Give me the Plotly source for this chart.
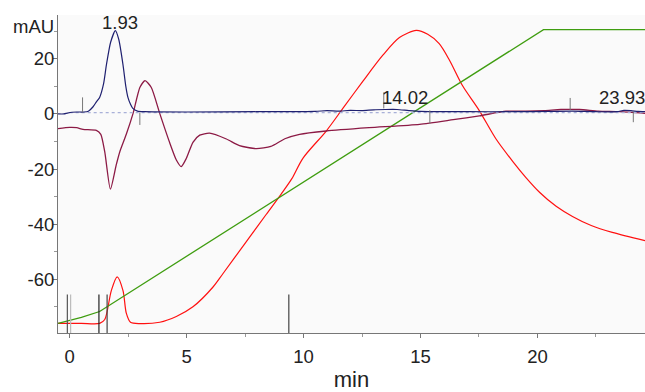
import plotly.graph_objects as go

# ---- data ----
uv_t = [-0.5, -0.25, -0.1, 0.1, 0.3, 0.6, 0.8, 1.0, 1.15, 1.28, 1.45, 1.57, 1.75, 1.95, 2.1, 2.28,
        2.4, 2.49, 2.6, 2.7, 2.9, 3.2, 5.0, 8.0, 10.5, 11.0, 11.5, 12.0, 12.5, 13.0, 13.5, 14.0,
        14.5, 15.0, 17.0, 19.0, 20.5, 21.5, 22.5, 23.4, 23.7, 24.0, 24.3, 24.6]
uv_v = [0.0, 0.0, 0.3, 0.6, 0.7, 0.7, 1.0, 2.6, 4.5, 6.0, 11.0, 17.8, 26.0, 30.2, 27.0, 17.8,
        10.0, 6.0, 3.5, 2.0, 1.0, 0.8, 0.7, 0.8, 0.9, 1.2, 1.0, 1.3, 1.2, 1.5, 1.6, 1.6,
        1.2, 0.9, 0.8, 0.8, 0.9, 1.0, 0.8, 0.8, 1.3, 1.2, 0.9, 0.8]

base_t = [0.0, 24.6]
base_v = [0.5, 0.5]

uv2_t = [-0.5, 0.0, 0.3, 0.57, 1.14, 1.33, 1.5, 1.74, 1.99, 2.14, 2.42, 2.71, 3.0, 3.22, 3.49,
         3.85, 4.27, 4.56, 4.77, 4.99, 5.27, 5.56, 5.98, 6.7, 7.26, 7.98, 8.6, 9.2, 9.83, 10.97,
         12.8, 14.96, 16.4, 17.52, 18.66, 19.5, 20.3, 21.0, 21.8, 22.6, 23.5, 24.6]
uv2_v = [-5.3, -4.9, -5.0, -5.6, -6.0, -7.4, -13.8, -27.3, -18.5, -13.8, -7.4, 0.2, 9.6, 12.1, 9.6,
         0.2, -10.3, -16.7, -19.1, -16.1, -10.3, -7.7, -7.0, -9.1, -11.5, -12.6, -11.8, -9.0, -7.4, -6.2,
         -5.0, -3.8, -2.1, -0.7, 1.0, 1.0, 1.2, 1.6, 1.6, 1.0, 0.8, 0.2]

cond_t = [-0.5, 0.5, 1.28, 1.5, 1.78, 2.03, 2.28, 2.42, 2.6, 3.0, 3.85, 4.56, 5.27, 6.12, 6.55,
          7.53, 8.4, 9.05, 9.5, 9.97, 10.97, 11.68, 12.54, 13.39, 14.1, 14.82, 15.31, 15.8, 16.24,
          16.8, 17.5, 18.23, 18.95, 19.5, 20.1, 20.8, 21.5, 22.3, 23.2, 24.6]
cond_v = [-76.0, -76.0, -76.0, -74.6, -64.1, -59.1, -64.1, -72.3, -75.6, -76.1, -75.6, -73.5, -70.0,
          -62.9, -58.0, -46.6, -36.5, -29.0, -23.5, -16.1, -6.2, 2.0, 11.9, 21.3, 27.7, 30.3, 28.9,
          25.5, 19.5, 10.2, 1.4, -9.1, -17.3, -23.0, -28.5, -33.5, -37.2, -40.5, -43.0, -46.0]

grad_t = [-0.5, 0.5, 1.28, 20.26, 24.6]
grad_v = [-76.0, -73.8, -71.7, 30.6, 30.6]

# integration markers (time, low, high)
mark_t = [0.55, 3.0, 13.43, 15.4, 21.4, 24.1]
mark_lo = [0.5, -4.0, 2.0, -3.5, 1.3, -3.0]
mark_hi = [6.0, 0.5, 7.8, 1.3, 5.8, 0.8]

# fraction / injection marks at the bottom
frac_t = [-0.1, 0.04, 1.25, 1.6, 9.37]
frac_c = ['#555555', '#bbbbbb', '#222222', '#444444', '#444444']
frac_lo, frac_hi = -79.5, -65.5

peak_labels = ['1.93', '14.02', '23.93']
peak_lx = [2.17, 14.35, 23.6]
peak_ly = [33.2, 6.1, 6.1]

x_ticks = [0, 5, 10, 15, 20]
x_minor = [2.5, 7.5, 12.5, 17.5, 22.5]
y_ticks = [-60, -40, -20, 0, 20]
y_ticktext = ['-60', '-40', '-20', '0', '20']
y_minor = [-70, -50, -30, -10, 10, 30]

fig = go.Figure()

fig.add_trace(go.Scatter(x=cond_t, y=cond_v, mode='lines', line=dict(color='#ff1010', width=1.2, shape='spline', smoothing=0.8)))
fig.add_trace(go.Scatter(x=grad_t, y=grad_v, mode='lines', line=dict(color='#3f9d10', width=1.3)))
fig.add_trace(go.Scatter(x=uv2_t, y=uv2_v, mode='lines', line=dict(color='#8c1a45', width=1.3, shape='spline', smoothing=0.6)))
fig.add_trace(go.Scatter(x=base_t, y=base_v, mode='lines', line=dict(color='#a8b0d8', width=1.2, dash='dot')))
fig.add_trace(go.Scatter(x=uv_t, y=uv_v, mode='lines', line=dict(color='#1f2070', width=1.2, shape='spline', smoothing=0.6)))

mx, my = [], []
for t, lo, hi in zip(mark_t, mark_lo, mark_hi):
    mx += [t, t, None]
    my += [lo, hi, None]
fig.add_trace(go.Scatter(x=mx, y=my, mode='lines', line=dict(color='#777777', width=1)))

for t, c in zip(frac_t, frac_c):
    fig.add_trace(go.Scatter(x=[t, t], y=[frac_lo, frac_hi], mode='lines', line=dict(color=c, width=1.2)))

for txt, x, y in zip(peak_labels, peak_lx, peak_ly):
    fig.add_annotation(x=x, y=y, text=txt, showarrow=False, font=dict(size=18.5, color='#222222'))

fig.add_annotation(x=0, xref='paper', xanchor='right', xshift=-2, y=31.7, yref='y', text='mAU',
                   showarrow=False, font=dict(size=18.5, color='#222222'))

fig.update_layout(
    width=645, height=392,
    margin=dict(l=58, r=0, t=15, b=48),
    paper_bgcolor='white', plot_bgcolor='#fafafa',
    showlegend=False,
    font=dict(family='Liberation Sans, Arial, sans-serif', size=18.5, color='#222222'),
    xaxis=dict(range=[-0.5, 24.6], tickvals=x_ticks, ticks='outside', ticklen=4, tickcolor='#777777',
               showline=True, linecolor='#777777', linewidth=1, showgrid=False, zeroline=False,
               minor=dict(tickvals=x_minor, ticks='outside', ticklen=3, tickcolor='#999999'),
               ticklabelstandoff=3,
               title=dict(text='min', standoff=9), tickfont=dict(size=18.5)),
    yaxis=dict(range=[-79.5, 35.9], tickvals=y_ticks, ticktext=y_ticktext, ticks='outside', ticklen=4,
               tickcolor='#777777', showline=True, linecolor='#777777', linewidth=1, showgrid=False,
               zeroline=False, minor=dict(tickvals=y_minor, ticks='outside', ticklen=3, tickcolor='#999999'),
               ticklabelstandoff=-5, tickfont=dict(size=18.5)),
)

fig.write_html('out.html', config={'displayModeBar': False},
               post_script="document.body.style.margin='0';document.body.style.overflow='hidden';")
